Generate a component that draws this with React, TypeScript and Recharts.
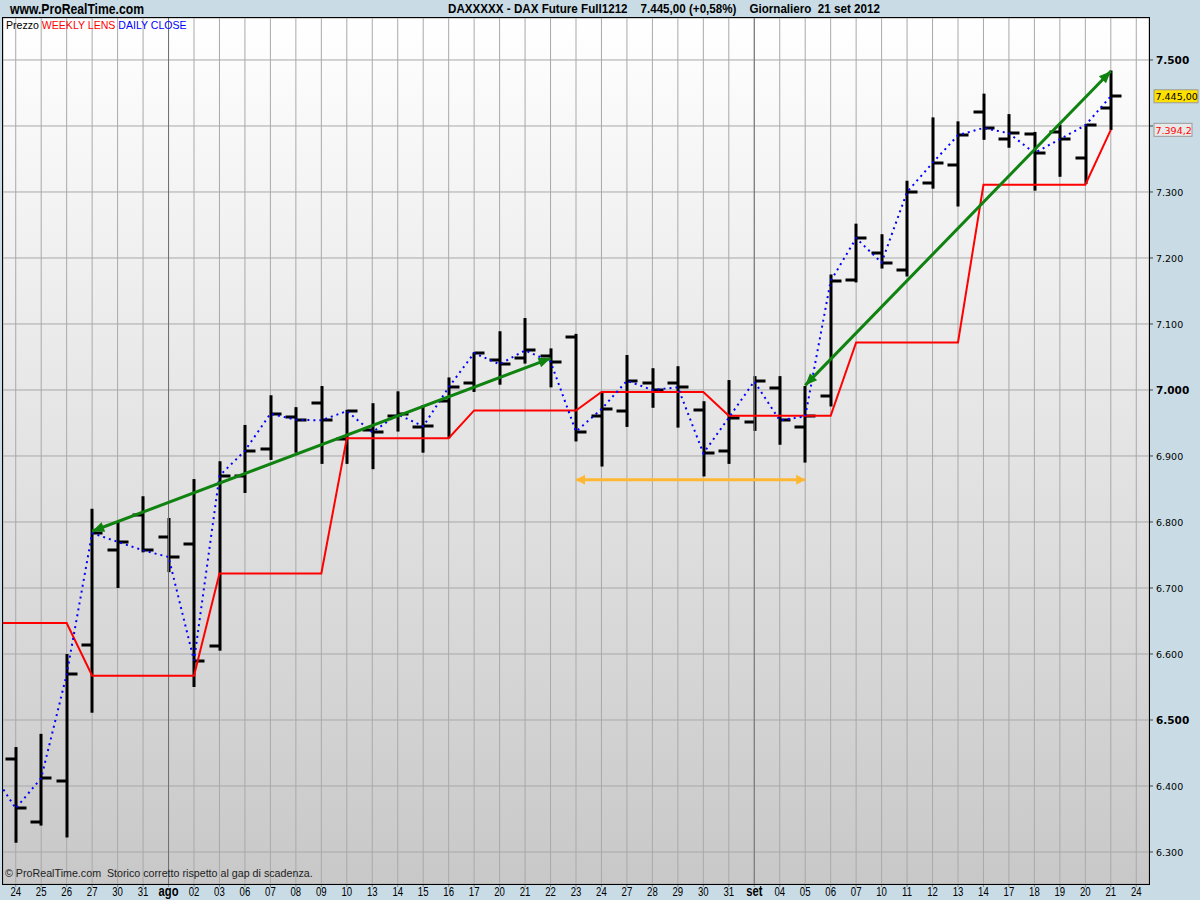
import React from "react";
import { ComposedChart, Bar, Line, XAxis, YAxis, CartesianGrid, ReferenceLine } from "recharts";

// trading days, 24 lug -> 24 set 2012
const days = [
  "24", "25", "26", "27", "30", "31", "ago", "02", "03", "06", "07", "08", "09", "10", "13",
  "14", "15", "16", "17", "20", "21", "22", "23", "24", "27", "28", "29", "30", "31", "set",
  "04", "05", "06", "07", "10", "11", "12", "13", "14", "17", "18", "19", "20", "21", "24",
];

const opens = [
  6441, 6346, 6407, 6613, 6758, 6811, 6777, 6767, 6612, 6869, 6910, 6959, 6981, 6926, 6940,
  6960, 6944, 6984, 7010, 7046, 7049, 7052, 7080, 6960, 6968, 7011, 7011, 6969, 6907, 6951,
  7003, 6944, 6991, 7166, 7207, 7182, 7313, 7341, 7421, 7381, 7388, 7391, 7351, 7427,
];
const highs = [
  6459, 6479, 6600, 6820, 6800, 6839, 6806, 6865, 6892, 6947, 6992, 6974, 7006, 6970, 6980,
  6998, 6977, 7019, 7057, 7089, 7109, 7063, 7085, 6996, 7053, 7033, 7036, 6983, 7015, 7021,
  7021, 7006, 7175, 7252, 7236, 7317, 7413, 7407, 7449, 7418, 7391, 7402, 7403, 7484,
];
const lows = [
  6314, 6340, 6322, 6511, 6700, 6754, 6724, 6550, 6605, 6844, 6894, 6905, 6888, 6888, 6880,
  6937, 6905, 6927, 6997, 7008, 7040, 7004, 6922, 6884, 6944, 6973, 6943, 6869, 6888, 6938,
  6917, 6890, 6975, 7163, 7184, 7172, 7305, 7278, 7379, 7367, 7302, 7323, 7312, 7394,
];
const closes = [
  6366, 6412, 6569, 6783, 6770, 6757, 6747, 6590, 6870, 6908, 6964, 6955, 6954, 6968, 6936,
  6963, 6945, 7004, 7056, 7039, 7060, 7043, 6937, 6971, 7014, 7000, 7004, 6904, 6958, 7013,
  6954, 6960, 7165, 7230, 7193, 7300, 7344, 7386, 7397, 7389, 7359, 7380, 7401, 7445,
];
const weeklyLens = [
  6647, 6647, 6647, 6567, 6567, 6567, 6567, 6567, 6722, 6722, 6722, 6722, 6722, 6927, 6927,
  6927, 6927, 6927, 6969, 6969, 6969, 6969, 6969, 6997, 6997, 6997, 6997, 6997, 6961, 6961,
  6961, 6961, 6961, 7072, 7072, 7072, 7072, 7072, 7311, 7311, 7311, 7311, 7311, 7394.2,
];
const prevClose = 6425;
const prevLens = 6647;

const priceTicks = [6300, 6400, 6500, 6600, 6700, 6800, 6900, 7000, 7100, 7200, 7300, 7400, 7500];
const monthStarts = [6, 29];

const greenArrows = [
  { from: 3, fromV: 6786, to: 21, toV: 7048 },
  { from: 31, fromV: 7007, to: 43, toV: 7483 },
];
const orangeArrow = { from: 22, to: 31, v: 6864 };

const lastPrice = 7445;
const lastLens = 7394.2;

const rows = opens.map((o, i) => ({
  i,
  open: o,
  high: highs[i],
  low: lows[i],
  close: closes[i],
  range: [lows[i], highs[i]],
}));
const closeLine = [{ i: -1, v: prevClose }, ...closes.map((c, i) => ({ i, v: c }))];
const lensLine = [{ i: -1, v: prevLens }, ...weeklyLens.map((w, i) => ({ i, v: w }))];
const dayTicks = days.map((_, i) => i);

const sans = "'Liberation Sans', Arial, sans-serif";
const axisFont = "'DejaVu Sans', Verdana, sans-serif";

const fmtPrice = (v: number) => `${Math.floor(v / 1000)}.${String(v % 1000).padStart(3, "0")}`;

function OhlcBar(props: any) {
  const { x, y, width, height } = props;
  const p = props.payload ?? props;
  if (p == null || p.high == null) return null;
  const cx = Math.round(x + width / 2);
  const top = Math.min(y, y + height);
  const h = Math.abs(height);
  const span = p.high - p.low || 1;
  const at = (v: number) => top + ((p.high - v) / span) * h;
  return (
    <g fill="#000">
      <rect x={cx - 1.5} y={top} width={3} height={h} />
      <rect x={cx - 10.5} y={Math.round(at(p.open)) - 1.5} width={10} height={3} />
      <rect x={cx + 0.5} y={Math.round(at(p.close)) - 1.5} width={10} height={3} />
    </g>
  );
}

function head(x: number, y: number, dx: number, dy: number, len: number, half: number) {
  const d = Math.hypot(dx, dy) || 1;
  const ux = dx / d;
  const uy = dy / d;
  const bx = x - ux * len;
  const by = y - uy * len;
  return `${x},${y} ${bx - uy * half},${by + ux * half} ${bx + uy * half},${by - ux * half}`;
}

function makeArrow(color: string, width: number, len: number, half: number) {
  return (props: any) => {
    const { x1, y1, x2, y2 } = props;
    if (x1 == null) return null;
    const dx = x2 - x1;
    const dy = y2 - y1;
    return (
      <g>
        <line x1={x1} y1={y1} x2={x2} y2={y2} stroke={color} strokeWidth={width} />
        <polygon points={head(x2, y2, dx, dy, len, half)} fill={color} />
        <polygon points={head(x1, y1, -dx, -dy, len, half)} fill={color} />
      </g>
    );
  };
}

const greenArrow = makeArrow("#0f820f", 3, 12, 5);
const yellowArrow = makeArrow("#ffb733", 3, 9, 5);

function PriceTag(props: any) {
  const { viewBox, text, bg, color, w } = props;
  if (!viewBox) return null;
  const x = viewBox.x + viewBox.width + 5;
  const y = viewBox.y;
  return (
    <g>
      <rect x={x} y={y - 6.5} width={w} height={13} fill={bg} stroke="#9a9a9a" strokeWidth={1} />
      <text x={x + 1.5} y={y + 4} fontSize={9.5} fontFamily={axisFont} fill={color}>
        {text}
      </text>
    </g>
  );
}

function DayTick(props: any) {
  const { x, y, payload } = props;
  const label = days[payload.value] ?? "";
  const month = label === "ago" || label === "set";
  return (
    <text
      transform={`translate(${x},${y + 9}) scale(0.8,1)`}
      textAnchor="middle"
      fontSize={month ? 14 : 12}
      fontWeight={month ? "bold" : "normal"}
      fontFamily={sans}
      fill="#000"
    >
      {label}
    </text>
  );
}

function PriceTick(props: any) {
  const { x, y, payload } = props;
  const v = payload.value as number;
  // the weekly lens tag takes the place of this label
  if (Math.abs(v - lastLens) < 15) return null;
  const bold = v % 500 === 0;
  return (
    <text
      x={x}
      y={y + 4}
      fontSize={bold ? 10.5 : 9.5}
      fontWeight={bold ? "bold" : "normal"}
      fontFamily={axisFont}
      fill="#000"
    >
      {fmtPrice(v)}
    </text>
  );
}

const squeeze = (sx: number): React.CSSProperties => ({
  transform: `scaleX(${sx})`,
  transformOrigin: "0 0",
  whiteSpace: "pre",
});

export default function App() {
  return (
    <div
      style={{
        position: "fixed",
        left: 0,
        top: 0,
        width: 1200,
        height: 900,
        background: "#c9dce6",
        overflow: "hidden",
      }}
    >
      <ComposedChart width={1200} height={900} data={rows} margin={{ top: 18, left: 3, right: 0, bottom: 0 }}>
        <defs>
          <linearGradient id="plotBg" x1="0" y1="0" x2="0" y2="1">
            <stop offset="0%" stopColor="#ffffff" />
            <stop offset="100%" stopColor="#c8c8c8" />
          </linearGradient>
        </defs>
        <CartesianGrid stroke="#a9a9a9" fill="url(#plotBg)" fillOpacity={1} />
        <XAxis
          type="number"
          dataKey="i"
          domain={[-0.5, 44.5]}
          allowDataOverflow
          ticks={dayTicks}
          interval={0}
          height={16}
          tickSize={3}
          tickMargin={0}
          axisLine={false}
          tickLine={{ stroke: "#8a8a8a" }}
          tick={<DayTick />}
        />
        <YAxis
          orientation="right"
          domain={[6251.5, 7563.6]}
          allowDataOverflow
          ticks={priceTicks}
          width={51}
          tickSize={4}
          tickMargin={3}
          axisLine={false}
          tickLine={{ stroke: "#444" }}
          tick={<PriceTick />}
        />
        {monthStarts.map((m) => (
          <ReferenceLine key={m} x={m} stroke="#707070" strokeWidth={1} />
        ))}
        <Line
          data={lensLine}
          dataKey="v"
          type="linear"
          stroke="#ff0000"
          strokeWidth={2}
          dot={false}
          activeDot={false}
          isAnimationActive={false}
        />
        <Bar dataKey="range" barSize={20} shape={<OhlcBar />} isAnimationActive={false} />
        <Line
          data={closeLine}
          dataKey="v"
          type="linear"
          stroke="#0000ff"
          strokeWidth={2}
          strokeDasharray="2 4"
          dot={false}
          activeDot={false}
          isAnimationActive={false}
        />
        {greenArrows.map((a, k) => (
          <ReferenceLine
            key={k}
            segment={[
              { x: a.from, y: a.fromV },
              { x: a.to, y: a.toV },
            ]}
            shape={greenArrow}
          />
        ))}
        <ReferenceLine
          segment={[
            { x: orangeArrow.from, y: orangeArrow.v },
            { x: orangeArrow.to, y: orangeArrow.v },
          ]}
          shape={yellowArrow}
        />
        <ReferenceLine
          y={lastPrice}
          stroke="none"
          label={<PriceTag text="7.445,00" bg="#ffe100" color="#000" w={44} />}
        />
        <ReferenceLine
          y={lastLens}
          stroke="none"
          label={<PriceTag text="7.394,2" bg="#e9e9e9" color="#ff0000" w={38} />}
        />
      </ComposedChart>

      <div
        style={{
          position: "absolute",
          left: 2,
          top: 17,
          width: 1146,
          height: 866,
          border: "1px solid #000",
          pointerEvents: "none",
        }}
      />
      <div
        style={{
          position: "absolute",
          left: 10,
          top: 1,
          fontFamily: sans,
          fontWeight: "bold",
          fontSize: 14,
          color: "#000",
          ...squeeze(0.87),
        }}
      >
        www.ProRealTime.com
      </div>
      <div
        style={{
          position: "absolute",
          left: 448,
          top: 2,
          fontFamily: sans,
          fontWeight: "bold",
          fontSize: 12.5,
          color: "#000",
          ...squeeze(0.93),
        }}
      >
        {"DAXXXXX - DAX Future Full1212    7.445,00 (+0,58%)    Giornaliero  21 set 2012"}
      </div>
      <div
        style={{
          position: "absolute",
          left: 6,
          top: 19,
          fontFamily: sans,
          fontSize: 11,
          ...squeeze(0.96),
        }}
      >
        <span style={{ color: "#000" }}>Prezzo </span>
        <span style={{ color: "#ff0000" }}>WEEKLY LENS </span>
        <span style={{ color: "#0000ff" }}>DAILY CLOSE</span>
      </div>
      <div
        style={{
          position: "absolute",
          left: 5,
          top: 867,
          fontFamily: sans,
          fontSize: 11.5,
          color: "#222",
          ...squeeze(0.93),
        }}
      >
        {"© ProRealTime.com  Storico corretto rispetto al gap di scadenza."}
      </div>
    </div>
  );
}
